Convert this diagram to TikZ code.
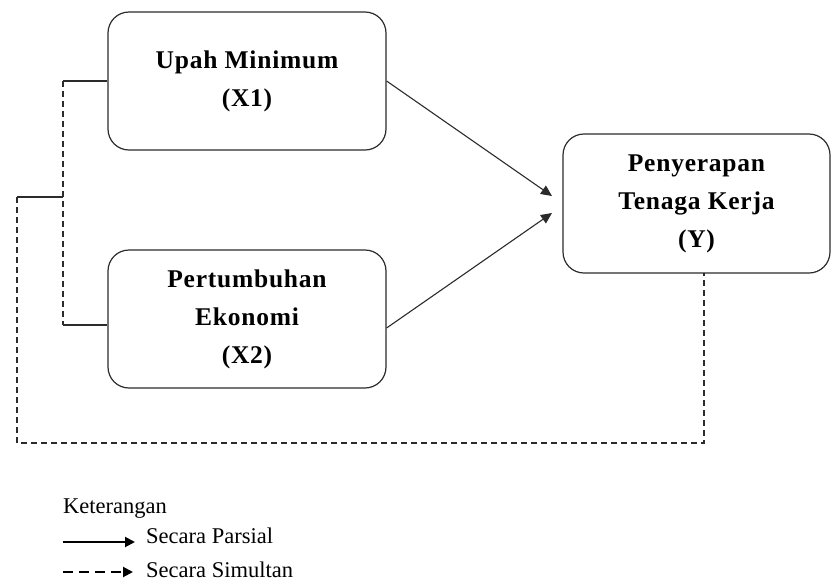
\documentclass[tikz,border=0pt]{standalone}
\usepackage{fontspec}
\setmainfont{Liberation Serif}
\newfontfamily\boxfont[LetterSpace=3]{Liberation Serif}
\usetikzlibrary{arrows.meta,calc}
\definecolor{lc}{HTML}{2b2b2b}
\tikzset{
  varbox/.style={draw=lc, line width=1.2pt, rounded corners=21pt, minimum width=278pt, minimum height=138pt, inner sep=0pt, align=center, font=\boxfont\bfseries\fontsize{25.5}{38}\selectfont},
  conn/.style={draw=lc, line width=1.1pt},
  dashconn/.style={draw=lc, line width=1.3pt, dash pattern=on 6pt off 4pt},
  tip/.style={-{Triangle[length=11pt,width=10pt]}},
  legtext/.style={anchor=base west, inner sep=0pt, font=\fontsize{22.5}{24}\selectfont}
}
\begin{document}
\begin{tikzpicture}[x=1pt,y=-1pt]
\useasboundingbox (0,0) rectangle (831,582);
% boxes
\node[varbox] (X1) at (247,81) {Upah Minimum\\(X1)};
\node[varbox] (X2) at (247,319) {Pertumbuhan\\Ekonomi\\(X2)};
\node[varbox, minimum width=267pt, minimum height=139pt] (Y) at (696.5,203.5) {Penyerapan\\Tenaga Kerja\\(Y)};
% arrow targets
\coordinate (t1) at (552,196);
\coordinate (t2) at (552,213);
\draw[conn, tip] (X1.east) -- (t1);
\draw[conn, tip] ([yshift=-9pt]X2.east) -- (t2);
% left bracket
\coordinate (b1) at (63,81);
\coordinate (b2) at (63,325);
\coordinate (j) at (63,197);
\coordinate (l1) at (17,197);
\coordinate (l2) at (17,443);
\coordinate (r2) at (704,443);
\coordinate (r1) at (704,273);
\draw[conn] (X1.west) -- (b1);
\draw[dashconn] (b1) -- (b2);
\draw[conn] (b2) -- ([yshift=-6pt]X2.west);
\draw[conn] (j) -- (l1);
\draw[dashconn] (l1) -- (l2) -- (r2) -- (r1);
% legend
\node[legtext] (ket) at (63,513) {Keterangan};
\coordinate (a1s) at (63,542);
\coordinate (a1e) at (135,542);
\coordinate (a2s) at (63,572);
\coordinate (a2e) at (133,572);
\draw[draw=black, line width=2pt, -{Triangle[length=10pt,width=10pt]}] (a1s) -- (a1e);
\draw[draw=black, line width=2pt, dash pattern=on 10pt off 6pt, -{Triangle[length=10pt,width=10pt]}] (a2s) -- (a2e);
\node[legtext] (parsial) at (146,543) {Secara Parsial};
\node[legtext] (simultan) at (146,577) {Secara Simultan};
\end{tikzpicture}
\end{document}
